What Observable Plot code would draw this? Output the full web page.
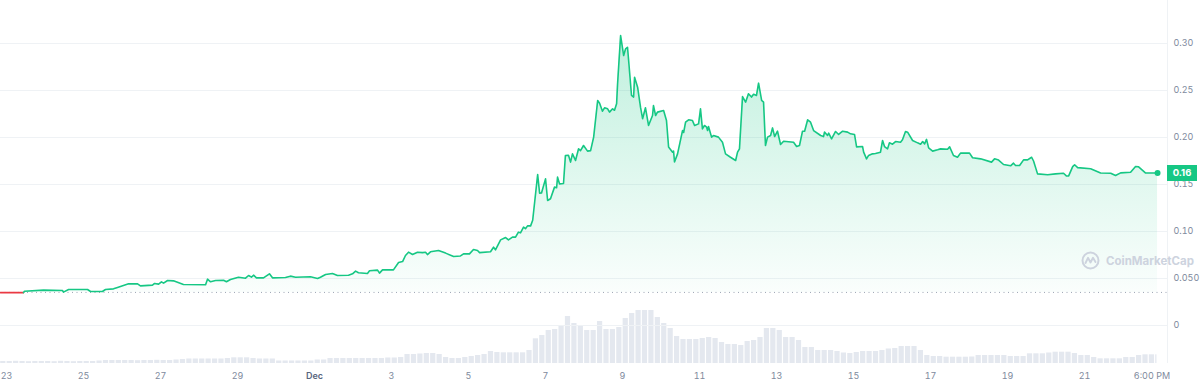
<!DOCTYPE html>
<html><head><meta charset="utf-8">
<script src="https://cdn.jsdelivr.net/npm/d3@7"></script>
<script src="https://cdn.jsdelivr.net/npm/@observablehq/plot@0.6"></script>
<style>
html,body{margin:0;padding:0;background:#fff;}
#wrap{position:relative;width:1200px;height:385px;overflow:hidden;font-family:Inter,sans-serif;}
#wrap svg{position:absolute;left:0;top:0;}
#wm{position:absolute;left:1081px;top:251px;display:flex;align-items:center;gap:6px;color:#cdd3de;font-weight:700;font-size:11.5px;line-height:18px;}
#last{position:absolute;left:1167px;width:30px;height:16px;background:#16c784;color:#fff;font-weight:700;font-size:9.5px;line-height:16px;text-align:center;}
</style></head>
<body><div id="wrap"></div>
<script>
// Time origin: Nov 23 00:00 (UTC); times below are hours from it
const T0 = Date.UTC(2021, 10, 23);
const toDate = h => new Date(T0 + h * 3600e3);

const priceHours = [-3.7,10.6,11.2,23.1,34.9,35.5,38.7,50.5,52.4,59.8,61.7,66.7,69.2,76.1,81.7,83.5,91.0,92.3,94.8,96.6,97.9,100.4,104.1,110.3,124.1,125.3,127.2,130.3,135.3,137.1,139.6,144.6,149.0,150.9,152.7,154.0,155.8,160.2,163.9,165.8,173.9,177.0,180.2,189.5,193.9,195.7,198.9,203.2,206.3,213.2,215.7,217.6,219.4,225.0,226.3,231.3,232.5,234.4,241.2,244.4,246.9,248.7,250.6,253.1,256.2,259.3,261.2,262.4,264.3,269.3,273.7,278.7,283.0,284.9,288.6,291.1,293.6,294.9,301.7,303.6,304.8,308.0,311.1,312.9,315.4,317.3,319.1,320.4,322.3,323.5,324.8,326.7,328.0,331.1,332.3,333.5,336.0,337.3,339.1,341.6,342.9,343.5,344.7,347.2,348.4,350.3,351.6,352.8,354.7,356.6,357.8,359.7,362.2,364.1,366.0,368.5,369.7,371.5,372.8,374.7,375.9,377.8,379.0,380.3,380.9,382.8,384.7,385.9,387.1,387.8,389.6,390.9,391.5,393.4,395.2,396.5,398.3,400.2,402.7,403.3,404.6,405.8,409.6,411.4,412.7,415.2,415.8,416.4,418.3,421.4,422.1,423.3,425.2,427.6,428.9,431.4,432.6,433.8,435.1,436.4,437.0,437.6,439.5,440.7,443.8,446.3,448.2,451.3,454.5,455.7,456.9,458.8,460.7,462.5,464.4,465.7,467.5,468.8,470.7,471.9,473.1,474.4,476.3,477.5,478.8,480.6,482.5,484.4,490.6,492.5,494.3,496.2,497.5,499.4,501.2,503.1,507.5,509.3,509.9,511.8,512.5,514.3,516.8,518.7,521.2,524.3,526.1,528.6,529.9,533.6,534.3,536.1,537.4,539.8,541.7,544.8,546.1,547.3,549.2,550.4,552.3,554.2,557.3,558.5,560.4,561.7,564.8,567.9,569.8,571.1,572.3,573.5,574.8,577.3,580.4,582.3,586.6,587.9,590.3,592.8,594.7,600.3,602.2,607.2,614.0,615.9,618.4,621.5,625.9,627.7,629.0,631.5,634.0,636.5,639.0,640.2,642.7,649.0,653.9,658.9,660.8,662.1,664.6,665.8,667.7,675.8,682.0,688.3,691.3,694.5,700.7,703.8,705.7,710.1,714.4,717.5];
const prices = [0.0350,0.0350,0.0365,0.0376,0.0372,0.0355,0.0383,0.0383,0.0362,0.0362,0.0383,0.0390,0.0404,0.0443,0.0443,0.0422,0.0430,0.0447,0.0440,0.0465,0.0450,0.0479,0.0475,0.0436,0.0433,0.0493,0.0465,0.0479,0.0482,0.0465,0.0490,0.0514,0.0503,0.0532,0.0514,0.0535,0.0507,0.0507,0.0550,0.0507,0.0510,0.0525,0.0514,0.0518,0.0500,0.0514,0.0543,0.0553,0.0532,0.0535,0.0550,0.0578,0.0561,0.0553,0.0582,0.0589,0.0557,0.0592,0.0592,0.0670,0.0680,0.0745,0.0780,0.0755,0.0780,0.0775,0.0780,0.0755,0.0784,0.0798,0.0770,0.0734,0.0740,0.0762,0.0762,0.0809,0.0798,0.0775,0.0784,0.0833,0.0805,0.0911,0.0936,0.0910,0.0940,0.0940,0.0993,0.0986,0.1046,0.1030,0.1060,0.1060,0.1120,0.1606,0.1408,0.1410,0.1560,0.1330,0.1348,0.1472,0.1465,0.1578,0.1507,0.1510,0.1809,0.1810,0.1738,0.1826,0.1755,0.1880,0.1860,0.1915,0.1855,0.1860,0.2004,0.2394,0.2365,0.2280,0.2316,0.2305,0.2270,0.2305,0.2290,0.2358,0.2570,0.3085,0.2872,0.2943,0.2960,0.2819,0.2447,0.2430,0.2640,0.2535,0.2323,0.2200,0.2316,0.2128,0.2234,0.2340,0.2234,0.2270,0.2287,0.2180,0.1900,0.1844,0.1855,0.1740,0.1826,0.2074,0.2053,0.2163,0.2188,0.2180,0.2128,0.2145,0.2305,0.2092,0.2128,0.2110,0.2074,0.2117,0.2004,0.2021,0.2004,0.1950,0.1826,0.1790,0.1755,0.1844,0.1880,0.2436,0.2376,0.2465,0.2430,0.2460,0.2447,0.2578,0.2394,0.2376,0.1915,0.2004,0.2021,0.2102,0.2010,0.2067,0.1926,0.1960,0.1950,0.1904,0.1915,0.2067,0.2067,0.2188,0.2163,0.2074,0.2021,0.2010,0.2057,0.2021,0.2046,0.1986,0.2064,0.2032,0.2067,0.2057,0.2039,0.2032,0.1900,0.1904,0.1844,0.1773,0.1809,0.1826,0.1830,0.1844,0.1968,0.1904,0.1879,0.1943,0.1929,0.1957,0.1950,0.1975,0.2064,0.2057,0.1968,0.1943,0.1929,0.1957,0.1932,0.1980,0.1890,0.1855,0.1869,0.1879,0.1875,0.1900,0.1809,0.1790,0.1834,0.1834,0.1784,0.1773,0.1738,0.1773,0.1760,0.1713,0.1699,0.1727,0.1702,0.1702,0.1762,0.1762,0.1790,0.1750,0.1613,0.1603,0.1613,0.1620,0.1590,0.1592,0.1690,0.1710,0.1680,0.1667,0.1622,0.1620,0.1596,0.1624,0.1630,0.1691,0.1688,0.1622,0.1622,0.1622];
const baselinePrice = 0.0352;
const lastPriceLabel = "0.16";

// Volume, 4-hour bars starting Nov 22 20:00 (arbitrary units, $M)
const volumeStartHour = -4, volumeStepHours = 4;
const volumes = [
  2,2,2.2,2,1.8,2,2,
  2,1.8,2.2,2,1.8,2,
  2,2,2.5,3,3,3,
  3,3,2.8,3,3,3.2,
  3,3,3.5,4,4.5,4.5,
  4.5,4.5,4.5,4.5,5,5.7,
  5.7,5.7,5,4.5,4.5,4.5,
  2.5,2.5,2.5,2.5,2.5,2.5,
  3.5,3.5,5,5,5,5,
  5,5,5,5,5,5.5,
  5.5,6,9,9,9.5,10,
  10,9,6,5,5,6,
  7,8,9,12,11,10.7,
  10.7,10.7,10.7,13,24.7,28,
  33,34,37,47,40,37,
  33,33,42,34,34,36,
  45,50,53,53,53,46,
  40,35,27,24,24,24,
  25,26,25,21,19,19,
  18,22,23,26,35,35,
  33,26,26,23,16,16,
  13,13,13,12,10.5,10,
  11,12,12,12,13,14.5,
  15,17,17,17,13,8,
  7,7,6.3,6.3,6.3,6.3,
  6.5,8,8,8,8,8,
  7,7,7,9.7,9.7,9.7,
  10.5,11.3,11.3,11.3,10,8,
  8,6,4.7,4.7,4.7,4.7,
  6,6,8,8.7,8.7,8.7
];

const domainHours = [-3.74, 723.7];
const yTicks = [0, 0.05, 0.10, 0.15, 0.20, 0.25, 0.30];
const yTickLabels = ["0", "0.050", "0.10", "0.15", "0.20", "0.25", "0.30"];
const xTickHours = [0, 48, 96, 144, 192, 240, 288, 336, 384, 432, 480, 528, 576, 624, 672, 714];
const xTickLabels = ["23", "25", "27", "29", "Dec", "3", "5", "7", "9", "11", "13", "15", "17", "19", "21", "6:00 PM"];

const GREEN = "#16c784", RED = "#ea3943";

const priceData = priceHours.map((h, i) => ({t: toDate(h), p: prices[i]}));
const firstUp = priceData.findIndex(d => d.p > baselinePrice);
const redData = priceData.slice(0, firstUp);
const greenData = priceData.slice(firstUp - 1);
const lastPoint = priceData[priceData.length - 1];
const volData = volumes.map((v, i) => {
  const h = volumeStartHour + i * volumeStepHours;
  return {t1: toDate(h), t2: toDate(Math.min(h + volumeStepHours, priceHours[priceHours.length - 1])), v};
});
const xDomain = domainHours.map(toDate);
const xLabel = new Map(xTickHours.map((h, i) => [+toDate(h), xTickLabels[i]]));

const common = {width: 1200, height: 385, marginLeft: 0, marginRight: 33, marginTop: 0, marginBottom: 22};

const volChart = Plot.plot({
  ...common,
  style: {background: "transparent"},
  x: {type: "utc", domain: xDomain, axis: null},
  y: {domain: [0, 60], range: [363, 303], axis: null},
  marks: [
    Plot.rectY(volData, {x1: "t1", x2: "t2", y: "v", fill: "#e4e8ef", insetLeft: 0.6, insetRight: 0.6})
  ]
});

const priceChart = Plot.plot({
  ...common,
  style: {background: "transparent", fontFamily: "Inter, sans-serif", fontSize: "9px", color: "#808a9d", overflow: "visible"},
  x: {type: "utc", domain: xDomain, ticks: xTickHours.map(toDate), tickFormat: d => xLabel.get(+d) ?? "", tickSize: 0, tickPadding: 9, label: null},
  y: {domain: [0, 0.30], range: [325, 43], axis: "right", ticks: yTicks,
      tickFormat: d => yTickLabels[yTicks.findIndex(v => Math.abs(v - d) < 1e-9)], tickSize: 0, tickPadding: 6, label: null},
  marks: [
    Plot.ruleY(yTicks, {stroke: "#eff2f5"}),
    Plot.ruleX([xDomain[1]], {stroke: "#eff2f5"}),
    Plot.areaY(greenData, {x: "t", y1: () => baselinePrice, y2: "p", fill: "url(#cmcGrad)"}),
    Plot.ruleY([baselinePrice], {stroke: "#9aa3b2", strokeDasharray: "1,3.5"}),
    Plot.lineY(redData, {x: "t", y: "p", stroke: RED, strokeWidth: 1.6}),
    Plot.lineY(greenData, {x: "t", y: "p", stroke: GREEN, strokeWidth: 1.6}),
    Plot.dot([lastPoint], {x: "t", y: "p", r: 3, fill: GREEN})
  ]
});

// gradient for the area
const defs = d3.select(priceChart).insert("defs", ":first-child");
const grad = defs.append("linearGradient").attr("id", "cmcGrad")
  .attr("gradientUnits", "userSpaceOnUse").attr("x1", 0).attr("x2", 0).attr("y1", 35).attr("y2", 292);
grad.append("stop").attr("offset", 0).attr("stop-color", GREEN).attr("stop-opacity", 0.27);
grad.append("stop").attr("offset", 0.6).attr("stop-color", GREEN).attr("stop-opacity", 0.12);
grad.append("stop").attr("offset", 1).attr("stop-color", GREEN).attr("stop-opacity", 0.02);

// "Dec" label in bold
d3.select(priceChart).selectAll("text").filter(function() { return this.textContent === "Dec"; })
  .attr("font-weight", 600).attr("fill", "#58667e");

const wrap = document.getElementById("wrap");
wrap.appendChild(volChart);
wrap.appendChild(priceChart);

// watermark
const wm = document.createElement("div");
wm.id = "wm";
wm.innerHTML = `<svg width="19" height="19" viewBox="0 0 19 19" style="position:static"><circle cx="9.5" cy="9.5" r="8" fill="none" stroke="#cdd3de" stroke-width="2"/><path d="M4.5 12 L7 6.8 L9.5 11.5 L12 6.8 L14.5 11" fill="none" stroke="#cdd3de" stroke-width="1.9" stroke-linejoin="round" stroke-linecap="round"/></svg><span>CoinMarketCap</span>`;
wrap.appendChild(wm);

// last price tag, positioned through the chart's y scale
const ys = priceChart.scale("y");
const yPix = d3.scaleLinear(ys.domain, ys.range)(lastPoint.p);
const tag = document.createElement("div");
tag.id = "last";
tag.style.top = (yPix - 8) + "px";
tag.textContent = lastPriceLabel;
wrap.appendChild(tag);
</script>
</body></html>
